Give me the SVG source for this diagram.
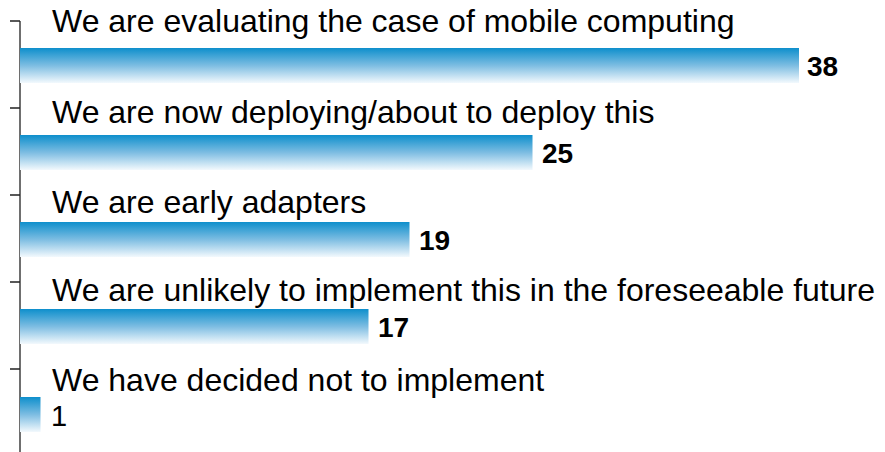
<svg xmlns="http://www.w3.org/2000/svg" width="885" height="452" viewBox="0 0 885 452">
<defs>
<linearGradient id="barGrad" x1="0" y1="0" x2="0" y2="1">
<stop offset="0" stop-color="#0e8fcc"/>
<stop offset="0.5" stop-color="#7dbde2"/>
<stop offset="1" stop-color="#f3f9fd"/>
</linearGradient>
</defs>
<style>
.lbl{font-family:"Liberation Sans",Arial,sans-serif;font-size:32px;fill:#000}
.num{font-family:"Liberation Sans",Arial,sans-serif;font-size:28px;font-weight:bold;fill:#000}
.num1{font-family:"Liberation Sans",Arial,sans-serif;font-size:29px;fill:#000}
.bar{fill:url(#barGrad)}
.axis{stroke:#222;stroke-width:1.3;fill:none}
</style>
<g id="axis">
<path class="axis" d="M20,21 V452 M10,21 H20 M10,108 H20 M10,195 H20 M10,282 H20 M10,369 H20"/>
</g>
<g id="bar1"><rect class="bar" x="20" y="48" width="779" height="35"/><text class="lbl" x="52" y="32">We are evaluating the case of mobile computing</text><text class="num" x="807" y="76">38</text></g>
<g id="bar2"><rect class="bar" x="20" y="135" width="512.5" height="35"/><text class="lbl" x="52" y="123">We are now deploying/about to deploy this</text><text class="num" x="542" y="163">25</text></g>
<g id="bar3"><rect class="bar" x="20" y="222" width="389.5" height="35"/><text class="lbl" x="52" y="213">We are early adapters</text><text class="num" x="419" y="250">19</text></g>
<g id="bar4"><rect class="bar" x="20" y="309" width="348.5" height="35"/><text class="lbl" x="52" y="301">We are unlikely to implement this in the foreseeable future</text><text class="num" x="378" y="337">17</text></g>
<g id="bar5"><rect class="bar" x="20" y="397" width="20.5" height="35"/><text class="lbl" x="52" y="391">We have decided not to implement</text><text class="num1" x="51" y="426">1</text></g>
</svg>
